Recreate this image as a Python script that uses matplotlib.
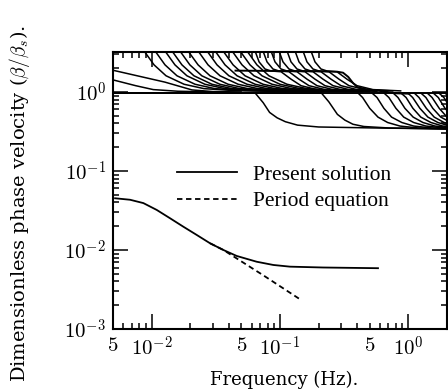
import math
import matplotlib
matplotlib.use('Agg')
import matplotlib.pyplot as plt
from matplotlib.ticker import LogLocator, FuncFormatter, NullFormatter

plt.rcParams['mathtext.fontset'] = 'cm'
plt.rcParams['font.family'] = ['DejaVu Serif']

# ---------------- data ----------------
# fundamental mode: "Present solution"
fund_freq = [0.00519, 0.00679, 0.00862, 0.01096, 0.01391, 0.01766, 0.02244,
             0.0285, 0.0362, 0.0460, 0.0658, 0.0887, 0.1196, 0.217, 0.58]
fund_vel = [0.0451, 0.0432, 0.0392, 0.0321, 0.0252, 0.0197, 0.0155,
            0.01216, 0.0100, 0.0084, 0.0071, 0.00646, 0.00615, 0.0060, 0.00588]

# "Period equation" (dashed)
period_freq = [0.0285, 0.0362, 0.0741, 0.143]
period_vel = [0.01216, 0.0100, 0.00478, 0.00238]

# plateau just below beta/beta_s = 1
plateau_freq = [0.005, 2.0]
plateau_vel = [0.97, 0.97]

# higher modes dropping from ~0.97 to ~0.34
lower_freq = [
    [0.005, 0.064, 0.074, 0.083, 0.095, 0.11, 0.137, 0.2, 0.54, 2.0],
    [0.005, 0.21, 0.24, 0.28, 0.32, 0.37, 0.45, 0.7, 2.0],
    [0.405, 0.44, 0.50, 0.58, 0.69, 0.86, 1.19, 2.0],
    [0.52, 0.57, 0.645, 0.74, 0.89, 1.10, 1.52, 2.0],
    [0.645, 0.705, 0.80, 0.92, 1.10, 1.37, 1.89, 2.1],
    [0.76, 0.83, 0.94, 1.09, 1.30, 1.61, 2.2],
    [0.875, 0.96, 1.085, 1.25, 1.50, 1.85, 2.2],
    [0.99, 1.08, 1.23, 1.42, 1.70, 2.1],
    [1.11, 1.21, 1.38, 1.59, 1.90, 2.35],
    [1.25, 1.37, 1.55, 1.79, 2.14],
    [1.40, 1.53, 1.74, 2.0, 2.4],
    [1.56, 1.71, 1.93, 2.23],
    [1.73, 1.89, 2.15],
    [1.93, 2.1],
]
lower_vel = [
    [0.97, 0.97, 0.73, 0.55, 0.47, 0.42, 0.38, 0.36, 0.35, 0.34],
    [0.97, 0.97, 0.75, 0.52, 0.44, 0.39, 0.365, 0.35, 0.34],
    [0.97, 0.85, 0.62, 0.48, 0.41, 0.37, 0.35, 0.34],
    [0.97, 0.85, 0.62, 0.48, 0.41, 0.37, 0.35, 0.345],
    [0.97, 0.85, 0.62, 0.48, 0.41, 0.37, 0.35, 0.35],
    [0.97, 0.85, 0.62, 0.48, 0.41, 0.37, 0.35],
    [0.97, 0.85, 0.62, 0.48, 0.41, 0.37, 0.36],
    [0.97, 0.85, 0.62, 0.48, 0.41, 0.37],
    [0.97, 0.85, 0.62, 0.48, 0.41, 0.37],
    [0.97, 0.85, 0.62, 0.48, 0.41],
    [0.97, 0.85, 0.62, 0.48, 0.41],
    [0.97, 0.85, 0.62, 0.48],
    [0.97, 0.85, 0.62],
    [0.97, 0.85],
]

# higher modes coming down from the top (low-frequency group)
upper_freq = [
    [0.00873, 0.01044, 0.01295, 0.0179, 0.0256, 0.0438, 0.090],
    [0.01063, 0.01271, 0.01576, 0.0218, 0.0311, 0.0534, 0.1095],
    [0.0127, 0.01519, 0.01883, 0.0260, 0.0372, 0.0638, 0.131],
    [0.0144, 0.01722, 0.02136, 0.0295, 0.0422, 0.0723, 0.148],
    [0.0166, 0.01985, 0.0246, 0.0340, 0.0486, 0.0833, 0.171],
    [0.0192, 0.0230, 0.0285, 0.0394, 0.0563, 0.0964, 0.198],
    [0.0230, 0.0275, 0.0341, 0.0472, 0.0674, 0.1155, 0.237],
    [0.0270, 0.0323, 0.0400, 0.0554, 0.0791, 0.1355, 0.278],
    [0.0312, 0.0373, 0.0463, 0.0640, 0.0914, 0.1566, 0.321],
    [0.0360, 0.0431, 0.0534, 0.0738, 0.1055, 0.1807, 0.371],
    [0.0423, 0.0506, 0.0627, 0.0867, 0.1239, 0.2123, 0.436],
    [0.0488, 0.0584, 0.0724, 0.1000, 0.1430, 0.245, 0.503],
    [0.0553, 0.0661, 0.0820, 0.1134, 0.162, 0.278, 0.570],
]
upper_vel = [
    [3.3, 2.2, 1.6, 1.25, 1.1, 1.04, 1.02],
] * 13

# higher modes coming down from the top (high-frequency group)
steep_freq = [
    [0.0639, 0.0687, 0.0764, 0.0851, 0.1019, 0.1219, 0.1458, 0.194, 0.321],
    [0.0737, 0.0792, 0.0881, 0.0982, 0.1175, 0.1405, 0.1682, 0.224, 0.370],
    [0.0851, 0.0914, 0.1018, 0.1134, 0.1357, 0.1623, 0.1942, 0.259, 0.427],
    [0.0982, 0.1055, 0.1174, 0.1308, 0.1565, 0.1873, 0.224, 0.2985, 0.493],
    [0.1134, 0.1218, 0.1356, 0.1511, 0.1808, 0.2163, 0.2588, 0.3447, 0.569],
    [0.1309, 0.1406, 0.1566, 0.1744, 0.2087, 0.2496, 0.2987, 0.398, 0.657],
    [0.151, 0.1622, 0.1806, 0.2011, 0.2407, 0.288, 0.3446, 0.459, 0.758],
    [0.1743, 0.1873, 0.2085, 0.2322, 0.2778, 0.3324, 0.3977, 0.530, 0.875],
]
steep_vel = [
    [3.3, 2.4, 1.95, 1.84, 1.8, 1.45, 1.2, 1.07, 1.03],
] * 8

# band near 1.84 ending in a rounded bump
band_freq = [0.045, 0.1, 0.2, 0.28, 0.31, 0.34, 0.37, 0.40, 0.47, 0.6, 0.81, 1.0]
band_vel = [1.86, 1.84, 1.83, 1.80, 1.75, 1.55, 1.30, 1.15, 1.08, 1.03, 0.96, 0.95]

# two modes entering from the left edge
left_freq = [
    [0.005, 0.0127, 0.0206, 0.03, 0.05],
    [0.005, 0.0075, 0.0103, 0.016, 0.03],
]
left_vel = [
    [1.88, 1.33, 1.06, 1.01, 1.0],
    [1.42, 1.2, 1.07, 1.02, 1.0],
]

x_major = [0.01, 0.1, 1.0]
x_major_labels = [r'$10^{-2}$', r'$10^{-1}$', r'$10^{0}$']
y_major = [1e-3, 1e-2, 1e-1, 1.0]
y_major_labels = [r'$10^{-3}$', r'$10^{-2}$', r'$10^{-1}$', r'$10^{0}$']

# ---------------- plot ----------------
fig = plt.figure(figsize=(4.48, 3.9), dpi=100)
ax = fig.add_axes([113 / 448, 61 / 390, 334 / 448, 277 / 390])
ax.set_xscale('log')
ax.set_yscale('log')

mode_kw = dict(color='black', lw=1.1, solid_capstyle='round', solid_joinstyle='round')
ax.plot(plateau_freq, plateau_vel, color='black', lw=1.4)
for fr, vl in zip(lower_freq, lower_vel):
    ax.plot(fr, vl, **mode_kw)
for fr, vl in zip(upper_freq, upper_vel):
    ax.plot(fr, vl, **mode_kw)
for fr, vl in zip(steep_freq, steep_vel):
    ax.plot(fr, vl, **mode_kw)
for fr, vl in zip(left_freq, left_vel):
    ax.plot(fr, vl, **mode_kw)
ax.plot(band_freq, band_vel, color='black', lw=1.4, solid_joinstyle='round')

l1, = ax.plot(fund_freq, fund_vel, color='black', lw=1.3,
              solid_joinstyle='round', label='Present solution')
l2, = ax.plot(period_freq, period_vel, color='black', lw=1.3,
              linestyle=(0, (3.0, 2.0)), label='Period equation')

ax.set_xlim(0.005, 2.0)
ax.set_ylim(1e-3, 3.2)

ax.set_xticks(x_major, labels=x_major_labels)
ax.set_yticks(y_major, labels=y_major_labels)
ax.xaxis.set_minor_locator(LogLocator(base=10, subs=range(2, 10), numticks=20))
ax.yaxis.set_minor_locator(LogLocator(base=10, subs=range(2, 10), numticks=20))


def five_fmt(v, pos):
    m = v / 10 ** math.floor(math.log10(v) + 1e-9)
    return r'$5$' if abs(m - 5) < 1e-6 else ''


ax.xaxis.set_minor_formatter(FuncFormatter(five_fmt))
ax.yaxis.set_minor_formatter(NullFormatter())

ax.tick_params(which='both', direction='in', top=True, right=True,
               width=1.1, labelsize=15, pad=5)
ax.tick_params(which='major', length=11)
ax.tick_params(which='minor', length=4.5)
for s in ax.spines.values():
    s.set_linewidth(1.5)

ax.set_xlabel('Frequency (Hz).', fontsize=13)
ax.xaxis.set_label_coords(0.513, -0.152)
ax.set_ylabel(r'Dimensionless phase velocity ($\beta/\beta_s$).', fontsize=14)
ax.yaxis.set_label_coords(-0.244, 0.452)

leg = ax.legend(handles=[l1, l2], loc='upper left', bbox_to_anchor=(0.165, 0.625),
                frameon=False, handlelength=2.8, handletextpad=0.75,
                labelspacing=0.3, borderaxespad=0,
                prop={'family': 'Liberation Serif', 'size': 15.5})

fig.savefig('out.png', dpi=100)
